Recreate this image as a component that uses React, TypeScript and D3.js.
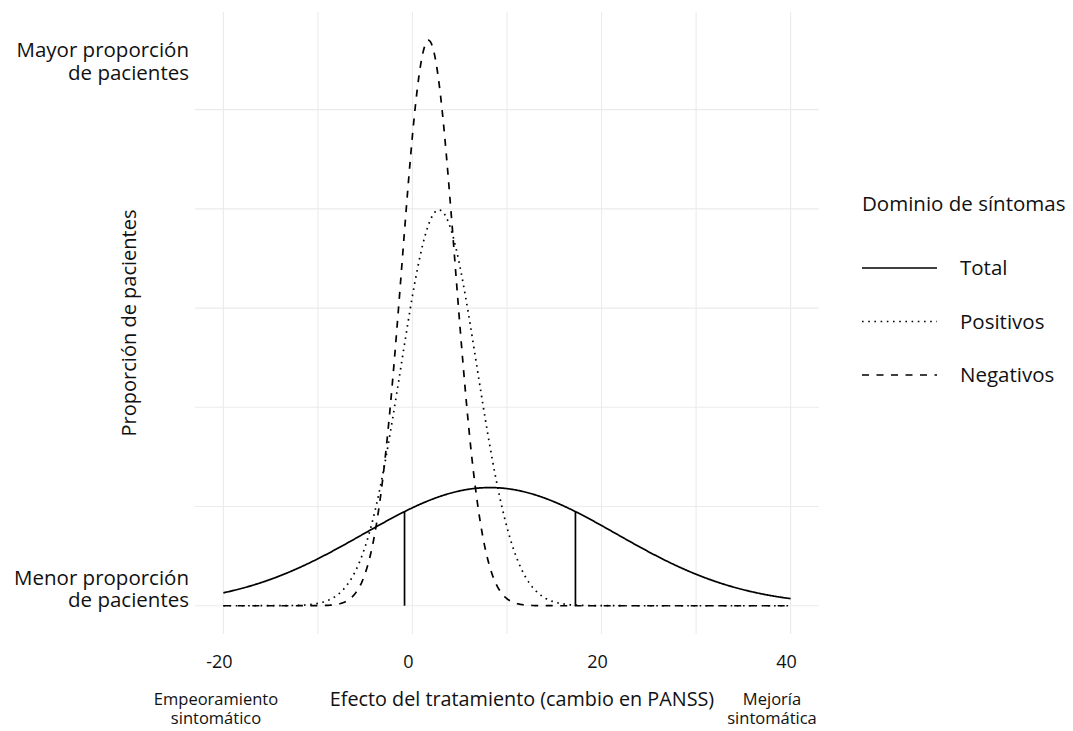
import React from "react";
import * as d3 from "d3";

// Symptom domains and the normal distributions
const domains = ["Total", "Positivos", "Negativos"];
const means = [8.2, 2.8, 1.7];
const sds = [13.4, 4.0, 2.8];
const dashes = ["none", "1.6,4.6", "7,7.5"];

const xTicks = [-20, 0, 20, 40];
const xMinor = [-10, 10, 30];
const yGrid = [0, 0.025, 0.05, 0.075, 0.1, 0.125];
const xRangeData = [-20, 40];
const quartileZ = 0.6745;

const W = 1073;
const H = 731;
const panel = { left: 195, right: 819, top: 12, bottom: 634 };
const FONT = "'Open Sans', Lato, sans-serif";
const TXT = "#111";

function dnorm(x: number, m: number, s: number) {
  return Math.exp(-0.5 * ((x - m) / s) ** 2) / (s * Math.sqrt(2 * Math.PI));
}

function Multi({ x, y, lines, size, gap, anchor }: { x: number; y: number; lines: string[]; size: number; gap: number; anchor: string }) {
  return (
    <text x={x} y={y} textAnchor={anchor as any} fontSize={size} fill={TXT}>
      {lines.map((l, i) => (
        <tspan key={i} x={x} dy={i === 0 ? 0 : gap}>
          {l}
        </tspan>
      ))}
    </text>
  );
}

export default function App() {
  const peak = d3.max(sds.map((s, i) => dnorm(means[i], means[i], s))) as number;
  const x = d3.scaleLinear().domain([-23, 43]).range([panel.left, panel.right]);
  const y = d3
    .scaleLinear()
    .domain([-0.05 * peak, 1.05 * peak])
    .range([panel.bottom, panel.top]);

  const xs = d3.range(xRangeData[0], xRangeData[1] + 0.001, 0.1);
  const line = d3
    .line<[number, number]>()
    .x((d) => x(d[0]))
    .y((d) => y(d[1]));

  const curves = domains.map((name, i) => ({
    name,
    dash: dashes[i],
    path: line(xs.map((v) => [v, dnorm(v, means[i], sds[i])] as [number, number])) as string,
  }));

  const q = [means[0] - quartileZ * sds[0], means[0] + quartileZ * sds[0]];

  return (
    <svg
      width={W}
      height={H}
      style={{ position: "absolute", left: 0, top: 0, background: "#fff" }}
      fontFamily={FONT}
    >
      {/* grid */}
      {yGrid.map((g) => (
        <line key={"y" + g} x1={panel.left} x2={panel.right} y1={y(g)} y2={y(g)} stroke="#EBEBEB" strokeWidth={1.1} />
      ))}
      {[...xTicks, ...xMinor].map((t) => (
        <line key={"x" + t} x1={x(t)} x2={x(t)} y1={panel.top} y2={panel.bottom} stroke="#EBEBEB" strokeWidth={1.1} />
      ))}

      {/* curves */}
      {curves.map((c) => (
        <path key={c.name} d={c.path} fill="none" stroke="#000" strokeWidth={1.7} strokeDasharray={c.dash} />
      ))}
      {q.map((v, i) => (
        <line key={"q" + i} x1={x(v)} x2={x(v)} y1={y(0)} y2={y(dnorm(v, means[0], sds[0]))} stroke="#000" strokeWidth={1.7} />
      ))}

      {/* x tick labels */}
      {xTicks.map((t) => (
        <text key={"xt" + t} x={x(t) - 4} y={668} textAnchor="middle" fontSize={18} fill={TXT}>
          {t}
        </text>
      ))}

      {/* y labels */}
      <Multi x={189} y={57} lines={["Mayor proporción", "de pacientes"]} size={20.5} gap={23} anchor="end" />
      <Multi x={189} y={585} lines={["Menor proporción", "de pacientes"]} size={20.5} gap={22} anchor="end" />

      {/* y title */}
      <text transform={`translate(136,${(panel.top + panel.bottom) / 2}) rotate(-90)`} textAnchor="middle" fontSize={20} fill={TXT}>
        Proporción de pacientes
      </text>

      {/* x titles */}
      <text x={522} y={706} textAnchor="middle" fontSize={19.8} fill={TXT}>Efecto del tratamiento (cambio en PANSS)</text>
      <Multi x={216} y={705} lines={["Empeoramiento", "sintomático"]} size={16.5} gap={19} anchor="middle" />
      <Multi x={772} y={705} lines={["Mejoría", "sintomática"]} size={16.5} gap={19} anchor="middle" />

      {/* legend */}
      <text x={862} y={211} fontSize={20.5} fill={TXT}>Dominio de síntomas</text>
      {curves.map((c, i) => (
        <g key={"lg" + c.name} transform={`translate(0,${268 + i * 53.5})`}>
          <line x1={862} x2={937} y1={0} y2={0} stroke="#000" strokeWidth={1.7} strokeDasharray={c.dash} />
          <text x={960} y={7} fontSize={20.5} fill={TXT}>{c.name}</text>
        </g>
      ))}
    </svg>
  );
}
